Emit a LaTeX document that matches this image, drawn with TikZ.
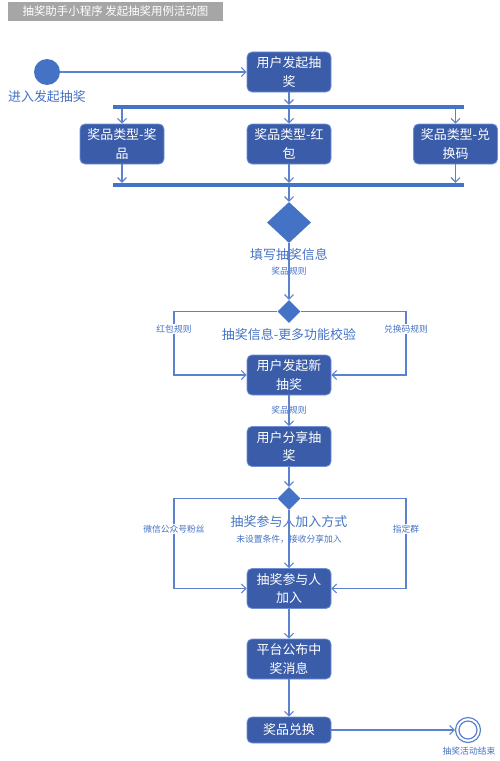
\documentclass[tikz,border=0pt]{standalone}
\usepackage{fontspec}
\setmainfont{Noto Sans CJK SC}
\usetikzlibrary{shapes.geometric,arrows.meta,positioning}
\definecolor{boxblue}{HTML}{3B5DA9}
\definecolor{boxedge}{HTML}{6F8FD6}
\definecolor{lineblue}{HTML}{5A82CF}
\definecolor{textblue}{HTML}{4472C4}
\definecolor{barblue}{HTML}{4472C4}
\definecolor{titlegray}{HTML}{A6A6A6}

\begin{document}
\begin{tikzpicture}[x=1bp,y=-1bp,
    act/.style={draw=boxedge, line width=0.8bp, fill=boxblue, rounded corners=5bp,
      text=white, minimum width=84bp, minimum height=40bp, align=center,
      inner sep=1bp, font=\fontsize{13}{18.5}\selectfont},
    bar/.style={fill=barblue, minimum height=4bp, inner sep=0pt},
    choice/.style={diamond, fill=barblue, inner sep=0pt},
    flow/.style={draw=lineblue, line width=1.1bp, -{Straight Barb[length=4.5bp,width=9bp]}},
    guard/.style={text=textblue, inner sep=1bp, font=\fontsize{8.8}{10}\selectfont},
    note/.style={text=textblue, inner sep=1bp, font=\fontsize{13}{15}\selectfont}]
    \useasboundingbox (0,0) rectangle (500,761);

    % title
    \node[fill=titlegray, text=white, minimum width=215bp, minimum height=19bp,
      inner sep=0pt, font=\fontsize{11.5}{13}\selectfont] (title) at (115.5,11.5)
      {抽奖助手小程序 发起抽奖用例活动图};

    % start
    \node[circle, fill=barblue, minimum size=26bp, inner sep=0pt] (start) at (47,72) {};
    \node[note] (startlabel) at (47,97) {进入发起抽奖};

    % activities
    \node[act] (act1) at (289,72) {用户发起抽\\奖};
    \node[bar, minimum width=351bp] (fork) at (288.5,107) {};
    \node[act] (pa) at (122,144) {奖品类型-奖\\品};
    \node[act] (pb) at (289,144) {奖品类型-红\\包};
    \node[act] (pc) at (455.5,144) {奖品类型-兑\\换码};
    \node[bar, minimum width=351bp] (join) at (288.5,185) {};

    \node[choice, minimum width=44bp, minimum height=41bp] (d1) at (289,222.5) {};
    \node[note] (fillinfo) at (289,255) {填写抽奖信息};
    \node[guard] (rule1) at (289,271) {奖品规则};

    \node[choice, minimum size=23bp] (d2) at (289,311.5) {};
    \node[note] (check) at (289,335) {抽奖信息-更多功能校验};
    \node[act] (act2) at (289,375) {用户发起新\\抽奖};
    \node[guard] (rule2) at (289,410) {奖品规则};
    \node[act] (act3) at (289,446.5) {用户分享抽\\奖};

    \node[choice, minimum size=23bp] (d3) at (289,498.5) {};
    \node[note] (joinway) at (289,522) {抽奖参与人加入方式};
    \node[guard] (nocond) at (289,539) {未设置条件，接收分享加入};
    \node[act] (act4) at (289,588.5) {抽奖参与人\\加入};
    \node[act] (act5) at (289,659) {平台公布中\\奖消息};
    \node[act, minimum height=26bp] (act6) at (289,730) {奖品兑换};

    % end
    \node[circle, draw=lineblue, line width=1.2bp, fill=white, minimum size=25bp, inner sep=0pt] (finish) at (468,730) {};
    \node[circle, draw=lineblue, line width=1.2bp, minimum size=18bp, inner sep=0pt] (finishin) at (468,730) {};
    \node[guard] (endlabel) at (469,751) {抽奖活动结束};

    % flows
    \draw[flow] (start) -- (act1);
    \draw[flow] (act1.south) -- (act1.south |- fork.north);
    \foreach \n in {pa,pb,pc} {
      \draw[flow] (fork.south -| \n) -- (\n.north);
      \draw[flow] (\n.south) -- (\n.south |- join.north);
    }
    \draw[flow] (join.south -| d1) -- (d1.north);
    \draw[flow] (d1.south) -- (d2.north);

    \coordinate (d2l) at (174,311.5);
    \coordinate (d2r) at (406,311.5);
    \draw[flow] (d2.west) -- (d2l) |- (act2.west);
    \draw[flow] (d2.east) -- (d2r) |- (act2.east);
    \draw[flow] (act2.south) -- (act3.north);
    \draw[flow] (act3.south) -- (d3.north);

    \coordinate (d3l) at (174,498.5);
    \coordinate (d3r) at (406,498.5);
    \draw[flow] (d3.west) -- (d3l) |- (act4.west);
    \draw[flow] (d3.east) -- (d3r) |- (act4.east);
    \draw[flow] (d3.south) -- (act4.north);
    \draw[flow] (act4.south) -- (act5.north);
    \draw[flow] (act5.south) -- (act6.north);
    \draw[flow] (act6.east) -- (finish.west);

    % branch guards
    \begin{scope}[every node/.style={guard, fill=white}]
    \node (redrule) at (174,329) {红包规则};
    \node (coderule) at (406,329) {兑换码规则};
    \node (fans) at (174,529) {微信公众号粉丝};
    \node (group) at (406,529) {指定群};
    \end{scope}
\end{tikzpicture}
\end{document}
